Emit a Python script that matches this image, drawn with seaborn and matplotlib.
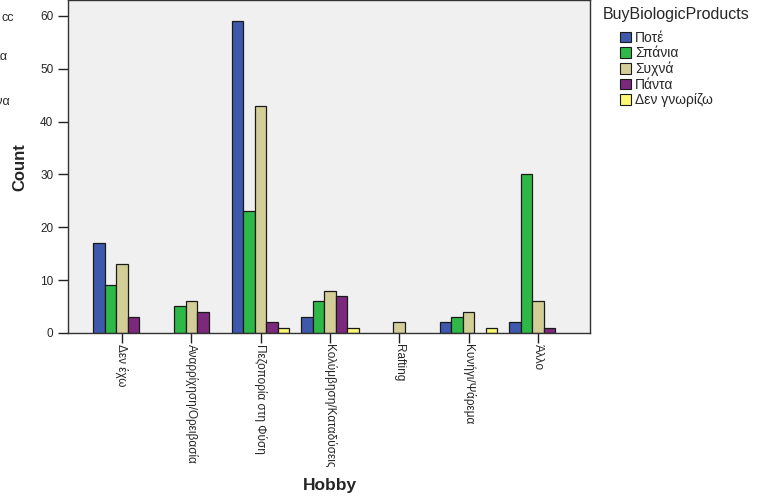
import pandas as pd
import matplotlib
matplotlib.use("Agg")
import matplotlib.pyplot as plt
import seaborn as sns

# -------------------------
# Data (counts)
# -------------------------
hobbies = ["Δεν έχω", "Αναρρίχηση/Ορειβασία", "Πεζοπορία στη Φύση",
           "Κολύμβηση/Καταδύσεις", "Rafting", "Κυνήγι/Ψάρεμα", "Άλλο"]
answers = ["Ποτέ", "Σπάνια", "Συχνά", "Πάντα", "Δεν γνωρίζω"]

never = [17, 0, 59, 3, 0, 2, 2]
rarely = [9, 5, 23, 6, 0, 3, 30]
often = [13, 6, 43, 8, 2, 4, 6]
always = [3, 4, 2, 7, 0, 0, 1]
dont_know = [0, 0, 1, 1, 0, 1, 0]

colors = ["#3E58AC", "#2EB848", "#D3CE97", "#7C287D", "#FBF873"]

rows = []
for ans, vals in zip(answers, [never, rarely, often, always, dont_know]):
    for h, v in zip(hobbies, vals):
        rows.append({"Hobby": h, "BuyBiologicProducts": ans, "Count": v})
df = pd.DataFrame(rows)
df = df[df["Count"] > 0]

# -------------------------
# Plot
# -------------------------
sns.set_style("white")
plt.rcParams["font.family"] = ["Liberation Sans", "DejaVu Sans"]

fig = plt.figure(figsize=(7.63, 4.99), dpi=100)
ax = fig.add_axes([0.089, 0.333, 0.684, 0.667])
ax.set_facecolor("#F0F0F0")

sns.barplot(data=df, x="Hobby", y="Count", hue="BuyBiologicProducts",
            order=hobbies, hue_order=answers, palette=colors, saturation=1,
            width=0.83, edgecolor="#1A1A1A", linewidth=0.9,
            errorbar=None, ax=ax)

ax.set_xlim(-0.78, 6.75)
ax.set_ylim(0, 63)
ax.set_yticks([0, 10, 20, 30, 40, 50, 60])
ax.tick_params(axis="both", direction="out", length=7, width=1, color="#222222",
               labelsize=8.5, bottom=True, left=True)
ax.tick_params(axis="x", pad=1)
ax.set_xticks(range(len(hobbies)))
ax.set_xticklabels(hobbies, rotation=-90, ha="center", va="top")
for s in ax.spines.values():
    s.set_color("#333333")
    s.set_linewidth(1)

ax.set_xlabel("Hobby", fontsize=12.5, fontweight="bold")
ax.xaxis.set_label_coords((330 - 68) / (0.684 * 763), -(478 - 333) / (0.667 * 499))
ax.set_ylabel("Count", fontsize=12, fontweight="bold")
ax.yaxis.set_label_coords(-(68 - 27) / (0.684 * 763), (333 - 167) / (0.667 * 499))

# legend outside on the right
ax.legend_.remove()
handles = [plt.Rectangle((0, 0), 1, 1, facecolor=c, edgecolor="#1A1A1A", linewidth=0.8)
           for c in colors]
fig.legend(handles, answers, loc="upper left",
           bbox_to_anchor=(620 / 763, 1 - 31 / 499), frameon=False, fontsize=10,
           handlelength=0.8, handleheight=0.8, handletextpad=0.3,
           labelspacing=0.1, borderaxespad=0, borderpad=0)
fig.text(603 / 763, 1 - 15 / 499, "BuyBiologicProducts", fontsize=11.5,
         ha="left", va="center")

# remnants of a neighbouring legend cut off at the left edge
fig.text(0.002, 1 - 18 / 499, "cc", fontsize=9, ha="left", va="center")
fig.text(-0.004, 1 - 57 / 499, "ια", fontsize=9, ha="left", va="center")
fig.text(-0.012, 1 - 102 / 499, "γνα", fontsize=9, ha="left", va="center")

plt.savefig("out.png", dpi=100)
